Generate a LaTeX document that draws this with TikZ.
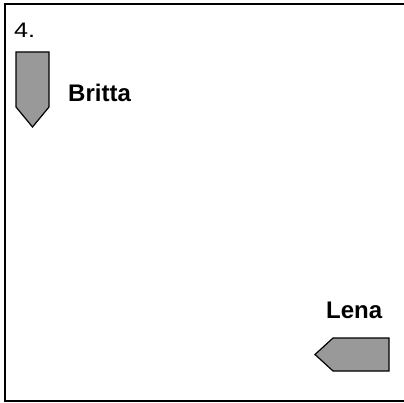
\documentclass[tikz,border=0pt]{standalone}
\usepackage{fontspec}
\setmainfont{Liberation Sans}
\usepackage{tikz}
\usetikzlibrary{positioning}
\definecolor{arrowgray}{RGB}{153, 153, 153}

\begin{document}
\begin{tikzpicture}[x=1pt, y=-1pt,
    namelabel/.style={anchor=base west, inner sep=0pt, font=\fontsize{24}{28}\selectfont\bfseries},
    marker/.style={draw=black, fill=arrowgray, line width=1.2pt, line join=miter}]
            \useasboundingbox (0,0) rectangle (404,403);
            \clip (0,0) rectangle (404,403);
            \draw[line width=2pt] (5,4) rectangle (410,401);
            \node[anchor=base west, inner sep=0pt, font=\fontsize{21}{24}\selectfont] (num) at (14,38) {\scalebox{1.2}[1]{4.}};
            \filldraw[marker] (16,52) -- (49,52) -- (49,107) -- (32.5,127) -- (16,107) -- cycle;
            \node[namelabel] (britta) at (68,102) {Britta};
            \node[namelabel] (lena) at (326,318) {Lena};
            \filldraw[marker] (389,338) -- (389,371) -- (333,371) -- (315,354.5) -- (333,338) -- cycle;
\end{tikzpicture}
\end{document}
